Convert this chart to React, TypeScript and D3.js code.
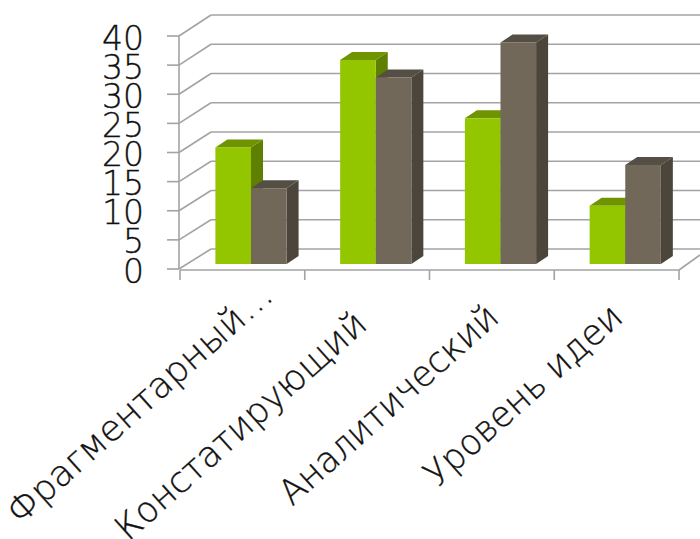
import React from "react";
import * as d3 from "d3";

const categories = ["Фрагментарный…", "Констатирующий", "Аналитический", "Уровень идеи"];
const seriesGreen = [20, 35, 25, 10];
const seriesGray = [13, 32, 38, 17];
const yTicks = [0, 5, 10, 15, 20, 25, 30, 35, 40];
const FONT = "'DejaVu Sans', sans-serif";
const labelEnds = [[275, 298], [369, 327], [501, 320], [625, 320]];
const labelLengths = [342, 323, 280, 252];

const W = 700, H = 539;
const frontLeft = 180, frontRight = 679, frontBase = 270, backDx = 31, backDy = -21;
const axisX = 179;
const yFront = d3.scaleLinear().domain([0, 40]).range([269, 36]);
const yBack = d3.scaleLinear().domain([0, 40]).range([249, 15]);
const yBar = d3.scaleLinear().domain([0, 40]).range([264, 30.8]);
const band = d3.scaleBand<string>().domain(categories).range([frontLeft, frontRight]);
const barW = 35.6, dX = 12, dY = -8;

function Bar({ x, v, c, t, s }: { x: number; v: number; c: string; t: string; s: string }) {
  const y0 = yBar(0), y1 = yBar(v);
  return (
    <g>
      <polygon points={`${x + barW},${y0} ${x + barW + dX},${y0 + dY} ${x + barW + dX},${y1 + dY} ${x + barW},${y1}`} fill={s} />
      <polygon points={`${x},${y1} ${x + dX},${y1 + dY} ${x + barW + dX},${y1 + dY} ${x + barW},${y1}`} fill={t} />
      <rect x={x} y={y1} width={barW} height={y0 - y1} fill={c} />
    </g>
  );
}

export default function App() {
  const stroke = "#a3a3a3";
  return (
    <svg width={W} height={H} style={{ position: "absolute", left: 0, top: 0, background: "#fff" }}>
      {yTicks.map((t) => (
        <g key={t} stroke={stroke} strokeWidth={1.6} fill="none">
          <line x1={frontLeft - 1} y1={yFront(t)} x2={frontLeft + backDx} y2={yBack(t)} />
          <line x1={frontLeft + backDx} y1={yBack(t)} x2={W} y2={yBack(t)} />
          <line x1={axisX - 12} y1={yFront(t)} x2={axisX} y2={yFront(t)} />
        </g>
      ))}
      <line x1={axisX} y1={yFront(40)} x2={axisX} y2={yFront(0)} stroke={stroke} strokeWidth={1.6} />
      <line x1={frontLeft} y1={frontBase} x2={frontRight} y2={frontBase} stroke={stroke} strokeWidth={1.6} />
      <line x1={frontRight} y1={frontBase} x2={W} y2={frontBase + backDy + 6} stroke={stroke} strokeWidth={1.6} />
      {[...categories.map((c) => band(c)!), frontRight].map((x, i) => (
        <line key={i} x1={x} y1={frontBase} x2={x} y2={frontBase + 10} stroke={stroke} strokeWidth={1.6} />
      ))}
      {yTicks.map((t) => (
        <text key={t} x={144} y={yFront(t) + 13.5} textAnchor="end" fontFamily={FONT} fontWeight={200} fontSize={33} fill="#111" stroke="#111" strokeWidth={0.35}>{t}</text>
      ))}
      {categories.map((c, i) => {
        const x = band(c)! + 35.4;
        return (
          <g key={c}>
            <Bar x={x} v={seriesGreen[i]} c="#94c600" t="#6f9400" s="#5f7f00" />
            <Bar x={x + barW} v={seriesGray[i]} c="#71685a" t="#554e44" s="#4b453c" />
          </g>
        );
      })}
      {categories.map((c, i) => (
        <text key={c} transform={`translate(${labelEnds[i][0]},${labelEnds[i][1]}) rotate(-41.8) translate(${-labelLengths[i]},0)`} textLength={labelLengths[i]} lengthAdjust="spacingAndGlyphs" fontFamily={FONT} fontWeight={200} fontSize={35.5} fill="#111" stroke="#111" strokeWidth={0.35}>{c}</text>
      ))}
    </svg>
  );
}
